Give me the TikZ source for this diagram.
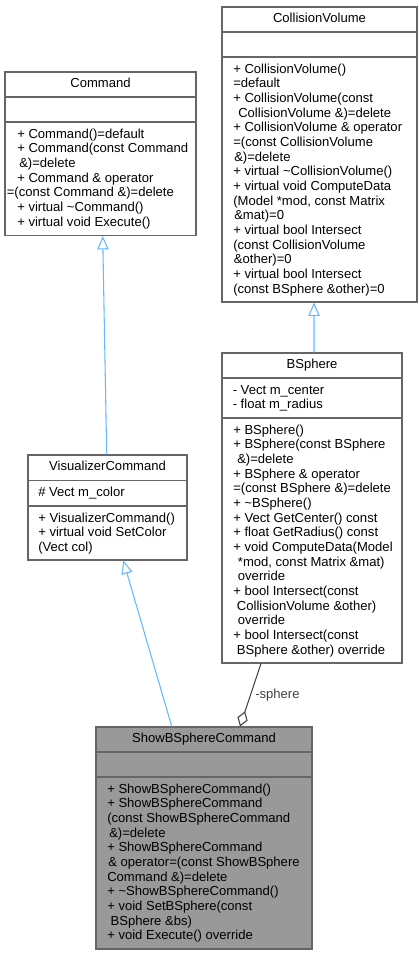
\documentclass[tikz,border=0pt]{standalone}
\usepackage{fontspec}
\setmainfont{Liberation Sans}
\usetikzlibrary{arrows.meta,fit}
\definecolor{bordc}{HTML}{666666}
\definecolor{inhc}{HTML}{63B8FF}
\definecolor{aggc}{HTML}{404040}
\definecolor{selc}{HTML}{999999}
\begin{document}
\begin{tikzpicture}[x=0.75pt,y=-0.75pt,
  font=\fontsize{9.8pt}{11pt}\selectfont,
  umlbox/.style={draw=bordc, line width=0.8pt, fill=white, inner sep=0pt, rectangle},
  selbox/.style={umlbox, fill=selc},
  sepline/.style={draw=bordc, line width=0.8pt},
  title/.style={anchor=base, inner sep=0pt},
  body/.style={anchor=north west, inner sep=0pt, align=left},
  inh/.style={draw=inhc, line width=0.8pt, -{Triangle[length=10pt,width=8.5pt,fill=white]}},
  agg/.style={draw=aggc, line width=0.8pt, -{Diamond[length=12pt,width=8pt,fill=white]}},
  lbl/.style={anchor=base west, inner sep=0pt, text=aggc}]
\useasboundingbox (0,0) rectangle (418,956);

% ---------- Command ----------
\node[umlbox, fit={(5,72) (196,235.5)}] (cmd) {};
\draw[sepline] (5,97) -- (196,97);
\draw[sepline] (5,122) -- (196,122);
\node[title] (cmdT) at (100.5,87.7) {Command};
\node[body] (cmdB) at (17,127.7) {\strut+ Command()=default\\
+ Command(const Command\\
\hspace*{1.5pt}\&)=delete\\
+ Command \& operator\\
\hspace*{-7.8pt}=(const Command \&)=delete\\
+ virtual \textasciitilde Command()\\
+ virtual void Execute()};

% ---------- CollisionVolume ----------
\node[umlbox, fit={(222,7) (417,302)}] (cv) {};
\draw[sepline] (222,32) -- (417,32);
\draw[sepline] (222,57) -- (417,57);
\node[title] (cvT) at (319.5,22.7) {CollisionVolume};
\node[body] (cvB) at (233,62.7) {\strut+ CollisionVolume()\\
=default\\
+ CollisionVolume(const\\
\hspace*{3.75pt}CollisionVolume \&)=delete\\
+ CollisionVolume \& operator\\
=(const CollisionVolume\\
\hspace*{0.75pt}\&)=delete\\
+ virtual \textasciitilde CollisionVolume()\\
+ virtual void ComputeData\\
(Model *mod, const Matrix\\
\hspace*{0.75pt}\&mat)=0\\
+ virtual bool Intersect\\
(const CollisionVolume\\
\hspace*{0.5pt}\&other)=0\\
+ virtual bool Intersect\\
(const BSphere \&other)=0};

% ---------- VisualizerCommand ----------
\node[umlbox, fit={(28,455) (187,560)}] (vis) {};
\draw[sepline] (28,480.5) -- (187,480.5);
\draw[sepline] (28,506) -- (187,506);
\node[title] (visT) at (107.5,470.7) {VisualizerCommand};
\node[body] (visA) at (38,486.2) {\strut\# Vect m\_color};
\node[body] (visB) at (38,511.7) {\strut+ VisualizerCommand()\\
+ virtual void SetColor\\
(Vect col)};

% ---------- BSphere ----------
\node[umlbox, fit={(222,353) (402,663)}] (bs) {};
\draw[sepline] (222,378) -- (402,378);
\draw[sepline] (222,418) -- (402,418);
\node[title] (bsT) at (312,368.7) {BSphere};
\node[body] (bsA) at (232.5,383.7) {\strut- Vect m\_center\\
- float m\_radius};
\node[body] (bsB) at (233,423.7) {\strut+ BSphere()\\
+ BSphere(const BSphere\\
\hspace*{3pt}\&)=delete\\
+ BSphere \& operator\\
=(const BSphere \&)=delete\\
+ \textasciitilde BSphere()\\
+ Vect GetCenter() const\\
+ float GetRadius() const\\
+ void ComputeData(Model\\
\hspace*{3.5pt}*mod, const Matrix \&mat)\\
\hspace*{3.5pt}override\\
+ bool Intersect(const\\
\hspace*{2.75pt}CollisionVolume \&other)\\
\hspace*{3.5pt}override\\
+ bool Intersect(const\\
\hspace*{2.75pt}BSphere \&other) override};

% ---------- ShowBSphereCommand ----------
\node[selbox, fit={(96,727) (312,949)}] (sbc) {};
\draw[sepline] (96,752) -- (312,752);
\draw[sepline] (96,777) -- (312,777);
\node[title] (sbcT) at (204,742.7) {ShowBSphereCommand};
\node[body] (sbcB) at (107,782.7) {\strut+ ShowBSphereCommand()\\
+ ShowBSphereCommand\\
(const ShowBSphereCommand\\
\hspace*{1.5pt}\&)=delete\\
+ ShowBSphereCommand\\
\hspace*{0.75pt}\& operator=(const ShowBSphere\\
Command \&)=delete\\
+ \textasciitilde ShowBSphereCommand()\\
+ void SetBSphere(const\\
\hspace*{2.5pt}BSphere \&bs)\\
+ void Execute() override};

% ---------- connectors ----------
\draw[inh] ([xshift=-0.6pt]vis.north) -- ([xshift=1.65pt]cmd.south);
\draw[inh] ([xshift=1.5pt]bs.north) -- ([xshift=-4.1pt]cv.south);
\draw[inh] ([xshift=-24.2pt]sbc.north) -- ([xshift=11.85pt]vis.south);
\draw[agg] ([xshift=-38.25pt]bs.south) -- ([xshift=27pt]sbc.north);
\node[lbl] (sphL) at (255,698) {-sphere};
\end{tikzpicture}
\end{document}
